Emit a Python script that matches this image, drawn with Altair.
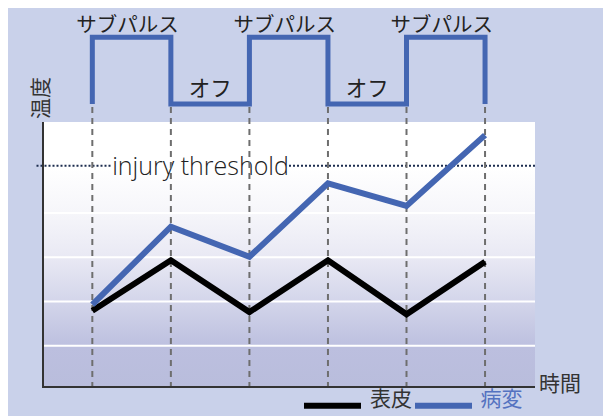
import altair as alt
import pandas as pd

# ---------------- data ----------------
times = [1, 2, 3, 4, 5, 6]
epidermis = [1.79, 2.93, 1.76, 2.93, 1.71, 2.90]
lesion = [1.93, 3.69, 3.01, 4.67, 4.16, 5.76]
series_names = ["表皮", "病変"]
threshold = 5.07
threshold_label = "injury threshold"
pulse_times = [1, 1, 2, 2, 3, 3, 4, 4, 5, 5, 6, 6]
pulse_states = [0, 1, 1, 0, 0, 1, 1, 0, 0, 1, 1, 0]
phase_labels = ["サブパルス", "オフ", "サブパルス", "オフ", "サブパルス"]
phase_mids = [1.5, 2.5, 3.5, 4.5, 5.5]
phase_states = [1, 0, 1, 0, 1]
grid_values = [1, 2, 3, 4, 5]
x_title = "時間"
y_title = "温度"

W, H = 492, 265
JP = "Noto Sans CJK JP"
BLUE = "#4466b2"
AXIS = "#333333"

lines_df = pd.DataFrame({
    "t": times * 2,
    "value": epidermis + lesion,
    "series": [series_names[0]] * len(times) + [series_names[1]] * len(times),
})
pulse_df = pd.DataFrame({"t": pulse_times, "state": pulse_states,
                         "i": list(range(len(pulse_times)))})
phase_df = pd.DataFrame({"t": phase_mids, "state": phase_states, "label": phase_labels})
grid_df = pd.DataFrame({"value": grid_values})
time_df = pd.DataFrame({"t": times})
legend_df = pd.DataFrame({"series": series_names})
thr_data = alt.Data(values=[{"v": threshold}])
one = alt.Data(values=[{}])

x_scale = alt.Scale(domain=[0.372, 6.636], nice=False, zero=False)
y_scale = alt.Scale(domain=[0.066, 6.057], nice=False, zero=False)
pulse_scale = alt.Scale(domain=[0, 1], range=[-18, -84.7], nice=False, zero=False)
color_scale = alt.Scale(domain=series_names, range=["#000000", BLUE])

# ---------------- plot area ----------------
bg = alt.Chart(one).mark_rect(
    fill=alt.LinearGradient(
        gradient="linear",
        stops=[
            alt.GradientStop(offset=0.0, color="#ffffff"),
            alt.GradientStop(offset=0.17, color="#ffffff"),
            alt.GradientStop(offset=0.34, color="#f6f6fa"),
            alt.GradientStop(offset=0.51, color="#e9e9f4"),
            alt.GradientStop(offset=0.68, color="#d3d5ea"),
            alt.GradientStop(offset=0.85, color="#bcbfdf"),
            alt.GradientStop(offset=1.0, color="#b9bddc"),
        ],
        x1=0, x2=0, y1=0, y2=1,
    )
).encode(x=alt.value(0), x2=alt.value(W), y=alt.value(0), y2=alt.value(H))

grid = alt.Chart(grid_df).mark_rule(color="white", strokeWidth=2).encode(
    y=alt.Y("value:Q", scale=y_scale, axis=None),
    x=alt.value(0), x2=alt.value(W),
)

thr_style = dict(color="#1c2d4f", strokeWidth=2, strokeDash=[2, 2])
thr_left = alt.Chart(thr_data).mark_rule(**thr_style).encode(
    y=alt.Y("v:Q", scale=y_scale, axis=None), x=alt.value(-6.5), x2=alt.value(68))
thr_right = alt.Chart(thr_data).mark_rule(**thr_style).encode(
    y=alt.Y("v:Q", scale=y_scale, axis=None), x=alt.value(246), x2=alt.value(W))
thr_text = alt.Chart(thr_data).mark_text(
    text=threshold_label, font="Open Sans", fontWeight=300, fontSize=25,
    color="#222222", align="center", baseline="middle", dy=1,
).encode(x=alt.value(157.5), y=alt.Y("v:Q", scale=y_scale, axis=None))

dashed = alt.Chart(time_df).mark_rule(color="#6e6e6e", strokeWidth=2, strokeDash=[6, 5]).encode(
    x=alt.X("t:Q", scale=x_scale, axis=None), y=alt.value(-15), y2=alt.value(H))

lines = alt.Chart(lines_df).mark_line(strokeWidth=6, strokeJoin="miter").encode(
    x=alt.X("t:Q", scale=x_scale, axis=None),
    y=alt.Y("value:Q", scale=y_scale, axis=None),
    color=alt.Color("series:N", scale=color_scale, legend=None),
)

# axis lines and titles
axis_left = alt.Chart(one).mark_rule(color=AXIS, strokeWidth=2).encode(
    x=alt.value(0), y=alt.value(0), y2=alt.value(H))
axis_bottom = alt.Chart(one).mark_rule(color=AXIS, strokeWidth=2).encode(
    x=alt.value(-1), x2=alt.value(W), y=alt.value(H))
x_title_mark = alt.Chart(one).mark_text(
    text=x_title, font=JP, fontSize=21, color=AXIS, align="center", baseline="middle"
).encode(x=alt.value(517), y=alt.value(263))
y_title_mark = alt.Chart(one).mark_text(
    text=y_title, font=JP, fontSize=21, color=AXIS, align="center", baseline="middle", angle=270
).encode(x=alt.value(-1), y=alt.value(-24))

# legend (built from the series names and the colour scale)
leg_pos = {0: (261, 318, 327, "#333333"), 1: (372, 429, 437.5, "#5472c0")}
legend_layers = []
for idx, name in enumerate(series_names):
    x0, x1, tx, tc = leg_pos[idx]
    sample = alt.Chart(legend_df).transform_filter(
        alt.datum.series == name
    ).mark_rule(strokeWidth=6).encode(
        x=alt.value(x0), x2=alt.value(x1), y=alt.value(283.7),
        color=alt.Color("series:N", scale=color_scale, legend=None),
    )
    label = alt.Chart(legend_df).transform_filter(
        alt.datum.series == name
    ).mark_text(font=JP, fontSize=21, color=tc, align="left", baseline="middle").encode(
        x=alt.value(tx), y=alt.value(278), text="series:N",
    )
    legend_layers += [sample, label]

# ---------------- pulse schedule ----------------
pulse = alt.Chart(pulse_df).mark_line(color=BLUE, strokeWidth=5, strokeJoin="miter", strokeCap="butt").encode(
    x=alt.X("t:Q", scale=x_scale, axis=None),
    y=alt.Y("state:Q", scale=pulse_scale, axis=None),
    order="i:Q",
)
on_text = alt.Chart(phase_df).transform_filter("datum.state == 1").mark_text(
    font=JP, fontSize=20.5, color="#222222", baseline="alphabetic", align="center", dx=-4, dy=-5
).encode(
    x=alt.X("t:Q", scale=x_scale, axis=None),
    y=alt.Y("state:Q", scale=pulse_scale, axis=None),
    text="label:N",
)
off_text = alt.Chart(phase_df).transform_filter("datum.state == 0").mark_text(
    font=JP, fontSize=21.5, color="#222222", baseline="middle", align="center", dy=-14
).encode(
    x=alt.X("t:Q", scale=x_scale, axis=None),
    y=alt.Y("state:Q", scale=pulse_scale, axis=None),
    text="label:N",
)

temp_layer = alt.layer(bg, grid, thr_left, thr_right, thr_text, dashed, lines,
                       axis_left, axis_bottom, x_title_mark, y_title_mark, *legend_layers)
pulse_layer = alt.layer(pulse, on_text, off_text)

chart = alt.layer(temp_layer, pulse_layer).resolve_scale(y="independent").properties(
    width=W, height=H,
    autosize=alt.AutoSizeParams(type="none"),
    padding={"left": 35, "top": 114, "right": 68, "bottom": 30},
).configure(background="#c9d1ea").configure_view(stroke=None)

chart.save("out.html", embed_options={"renderer": "svg", "actions": False})
